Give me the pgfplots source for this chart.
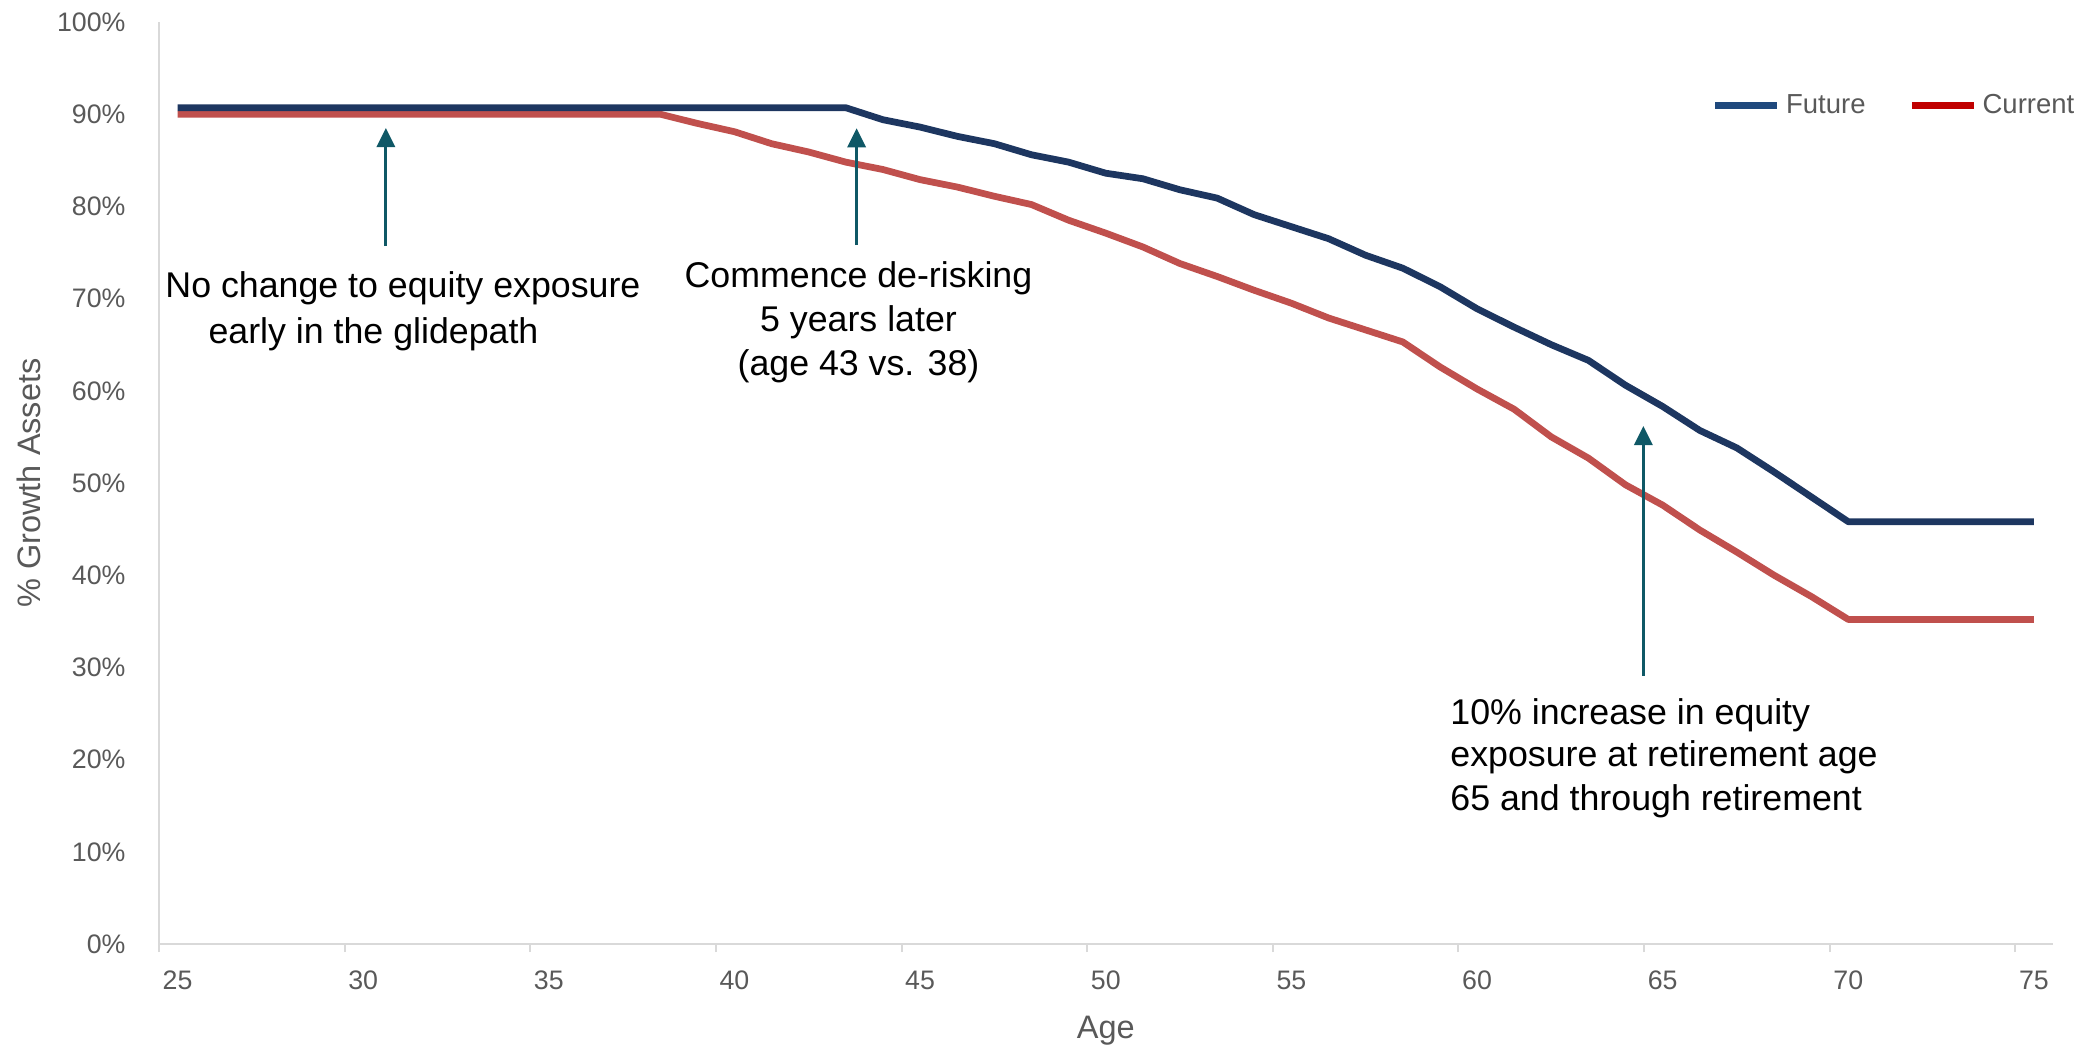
\documentclass[border=0pt]{standalone}
\usepackage{pgfplots}
\usepackage{pgfplotstable}
\pgfplotsset{compat=1.18}
\usepackage{fontspec}
\setmainfont{Liberation Sans}
\usetikzlibrary{arrows.meta}
\definecolor{futureC}{RGB}{29,54,96}
\definecolor{currentC}{RGB}{192,80,77}
\definecolor{futureL}{RGB}{31,73,125}
\definecolor{currentL}{RGB}{192,0,0}
\definecolor{arrowC}{RGB}{15,88,102}
\definecolor{txtgray}{RGB}{89,89,89}
\definecolor{axgray}{RGB}{217,217,217}
\newcommand\annfont{\fontsize{14.3}{17}\selectfont}

\pgfplotstableread{
age future current
25 90.7 90.0
26 90.7 90.0
27 90.7 90.0
28 90.7 90.0
29 90.7 90.0
30 90.7 90.0
31 90.7 90.0
32 90.7 90.0
33 90.7 90.0
34 90.7 90.0
35 90.7 90.0
36 90.7 90.0
37 90.7 90.0
38 90.7 90.0
39 90.7 89.0
40 90.7 88.1
41 90.7 86.8
42 90.7 85.9
43 90.7 84.8
44 89.4 84.0
45 88.6 82.9
46 87.6 82.1
47 86.8 81.1
48 85.6 80.2
49 84.8 78.5
50 83.6 77.1
51 83.0 75.6
52 81.8 73.8
53 80.9 72.4
54 79.1 70.9
55 77.8 69.5
56 76.5 67.9
57 74.7 66.6
58 73.3 65.3
59 71.3 62.6
60 68.9 60.2
61 66.9 58.0
62 65.0 55.0
63 63.3 52.7
64 60.6 49.8
65 58.3 47.6
66 55.7 44.9
67 53.8 42.5
68 51.2 40.0
69 48.5 37.7
70 45.8 35.2
71 45.8 35.2
72 45.8 35.2
73 45.8 35.2
74 45.8 35.2
75 45.8 35.2
}\glide

\begin{document}
\begin{tikzpicture}
\useasboundingbox (-63.6pt,-40.8pt) rectangle (770.4pt,377.6pt);
\begin{axis}[
  at={(0pt,0pt)}, anchor=south west,
  scale only axis, width=757.4pt, height=368.8pt,
  xmin=24.5, xmax=75.5, ymin=0, ymax=100,
  clip=false,
  axis x line*=bottom, axis y line*=left,
  axis line style={axgray, line width=0.8pt},
  xtick={25,30,...,75},
  xticklabels={25,30,35,40,45,50,55,60,65,70,75},
  minor xtick={24.5,29.5,...,74.5},
  major tick length=0pt, minor tick length=3.2pt,
  tick align=outside,
  minor tick style={axgray, line width=0.8pt},
  major tick style={draw=none},
  ytick={0,10,...,100},
  yticklabels={0\%,10\%,20\%,30\%,40\%,50\%,60\%,70\%,80\%,90\%,100\%},
  tick label style={font=\fontsize{10.7}{12}\selectfont, text=txtgray},
  xticklabel style={anchor=base, yshift=-18.3pt, inner sep=0pt},
  yticklabel style={anchor=east, inner sep=0pt, xshift=-13.2pt},
  xlabel={Age},
  xlabel style={at={(axis description cs:0.5,-0.1025)}, anchor=base, font=\fontsize{13}{15}\selectfont, text=txtgray},
  ylabel={\% Growth Assets},
  ylabel style={at={(axis description cs:-0.0687,0.5)}, anchor=center, font=\fontsize{13}{15}\selectfont, text=txtgray},
  legend columns=2,
  legend style={draw=none, fill=none, at={(0.8197,0.9092)}, anchor=west, inner sep=0pt,
    font=\fontsize{11}{12}\selectfont, text=txtgray, column sep=2pt,
    /tikz/every even column/.append style={column sep=17pt},
    nodes={inner sep=0pt}},
  legend image code/.code={\draw[#1] (0pt,0pt) -- (24.8pt,0pt);},
]
\addlegendimage{futureL, line width=3pt}
\addlegendentry{Future}
\addlegendimage{currentL, line width=3pt}
\addlegendentry{Current}

\addplot[currentC, line width=2.7pt, line join=round, forget plot] table[x=age, y=current]{\glide};
\addplot[futureC, line width=2.7pt, line join=round, forget plot] table[x=age, y=future]{\glide};

\draw[arrowC, line width=1.2pt, -{Triangle[length=7.6pt,width=7.2pt]}] (axis cs:30.61,75.7) -- (axis cs:30.61,88.5);
\draw[arrowC, line width=1.2pt, -{Triangle[length=7.6pt,width=7.2pt]}] (axis cs:43.29,75.8) -- (axis cs:43.29,88.47);
\draw[arrowC, line width=1.2pt, -{Triangle[length=7.6pt,width=7.2pt]}] (axis cs:64.48,29.1) -- (axis cs:64.48,56.18);

\node[anchor=base west, font=\annfont, inner sep=0pt] at (axis cs:24.66,70.17) {No change to equity exposure};
\node[anchor=base west, font=\annfont, inner sep=0pt] at (axis cs:25.82,65.09) {early in the glidepath};

\node[anchor=base, font=\annfont, inner sep=0pt] at (axis cs:43.34,71.22) {Commence de-risking};
\node[anchor=base, font=\annfont, inner sep=0pt] at (axis cs:43.34,66.45) {5 years later};
\node[anchor=base, font=\annfont, inner sep=0pt] at (axis cs:43.34,61.68) {(age 43 vs. 38)};

\node[anchor=base west, font=\annfont, inner sep=0pt] at (axis cs:59.27,23.82) {10\% increase in equity};
\node[anchor=base west, font=\annfont, inner sep=0pt] at (axis cs:59.27,19.29) {exposure at retirement age};
\node[anchor=base west, font=\annfont, inner sep=0pt] at (axis cs:59.27,14.46) {65 and through retirement};
\end{axis}
\end{tikzpicture}
\end{document}
